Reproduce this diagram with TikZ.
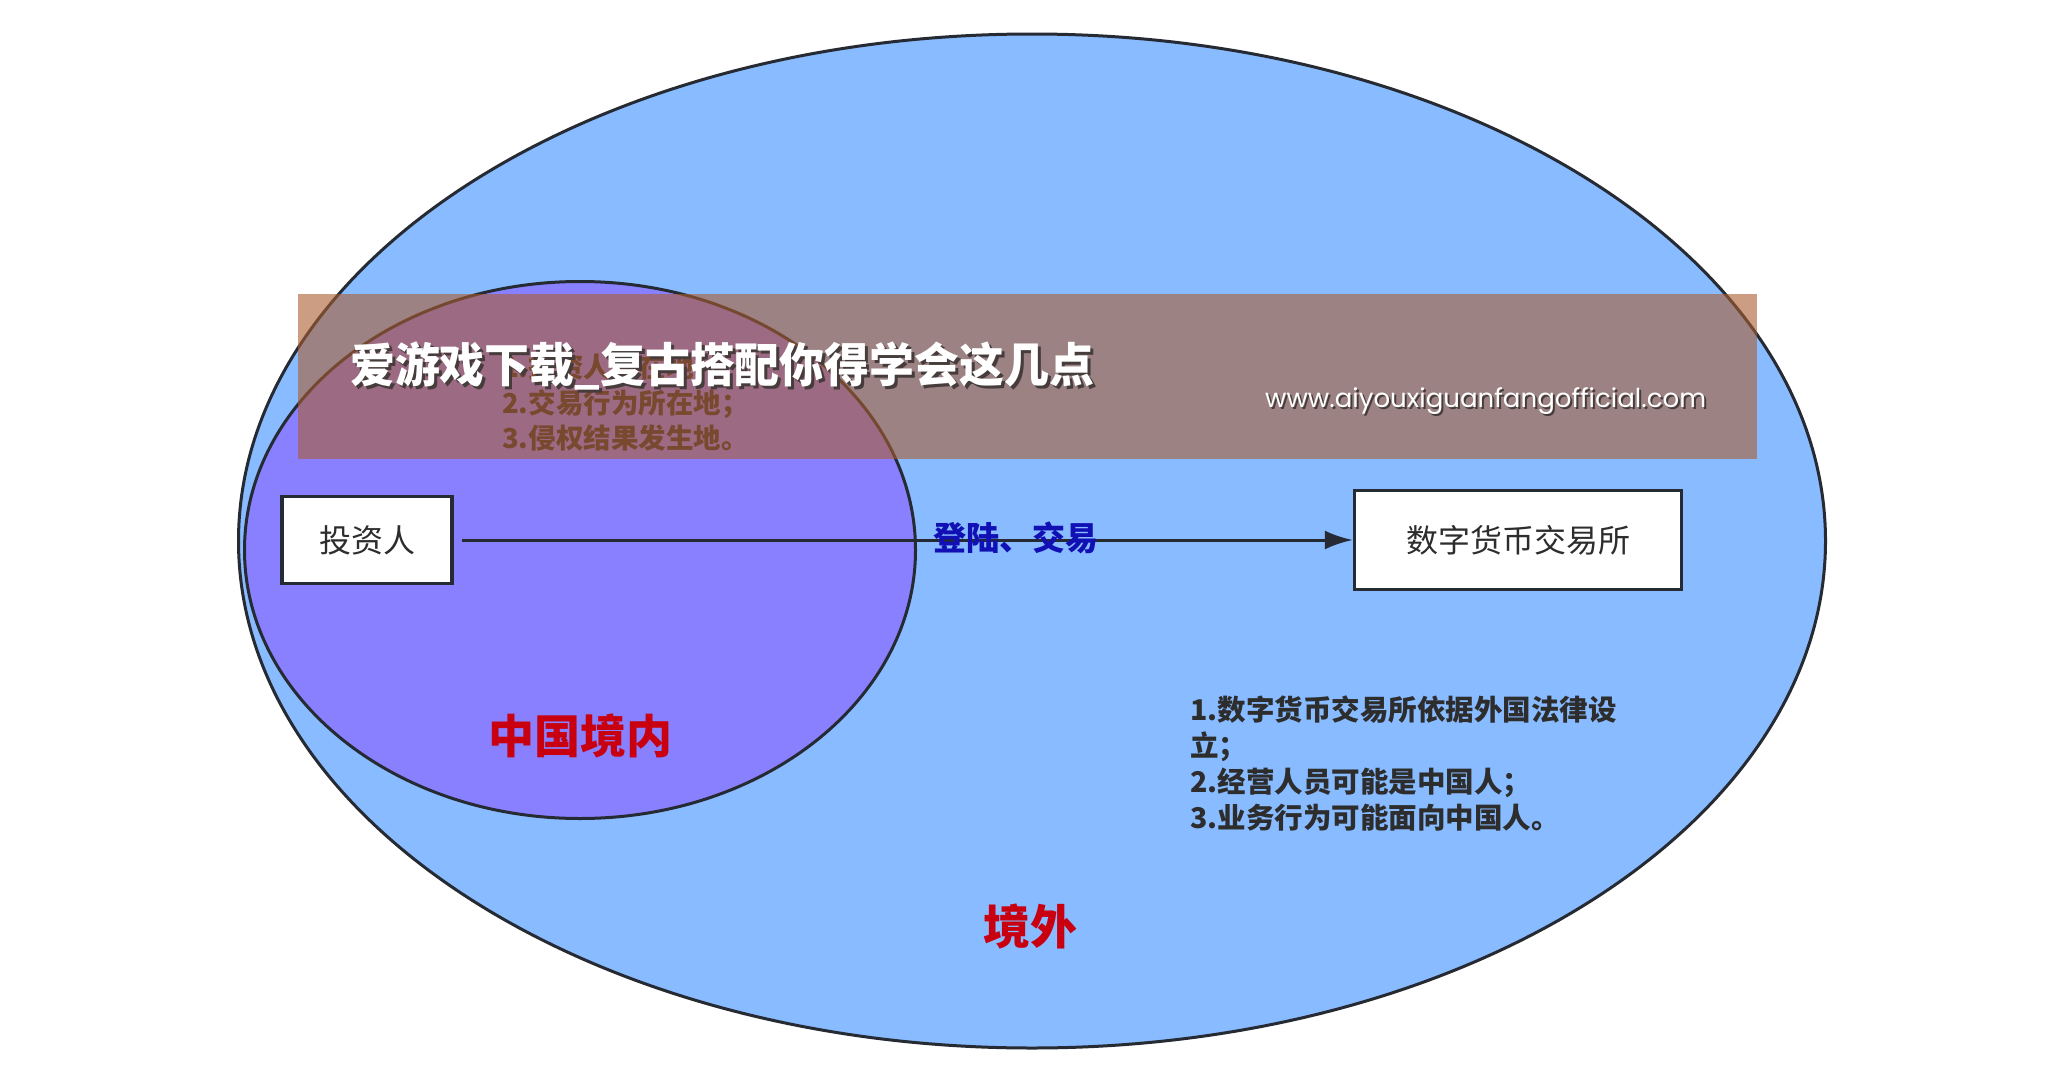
\documentclass[tikz,border=0pt]{standalone}
\usepackage{fontspec}
\setmainfont{Noto Sans CJK SC}
\newfontfamily\cjk{Noto Sans CJK SC}
\newfontfamily\urlfont{Poppins}
\usetikzlibrary{arrows.meta,shapes.geometric}
\definecolor{outerblue}{RGB}{136,187,255}
\definecolor{innerpurple}{RGB}{136,128,255}
\definecolor{edgec}{RGB}{38,42,50}
\definecolor{bannerc}{RGB}{170,92,48}
\definecolor{redtxt}{RGB}{200,0,16}
\definecolor{bluetxt}{RGB}{16,16,180}
\definecolor{txt}{RGB}{45,45,45}
\definecolor{shadowc}{RGB}{70,60,60}
\tikzset{
  region/.style={ellipse, draw=edgec, line width=3pt, inner sep=0pt},
  box/.style={draw=edgec, fill=white, line width=3.5pt, inner sep=0pt, text=txt, font=\cjk\fontsize{32}{38}\selectfont},
  conn/.style={draw=edgec, line width=3pt, -{Latex[length=28pt,width=19pt]}},
  bigred/.style={text=redtxt, font=\cjk\bfseries\fontsize{46}{52}\selectfont, inner sep=0pt},
  listtxt/.style={text=txt, align=left, inner sep=0pt, anchor=west}
}
\begin{document}
\begin{tikzpicture}[x=1pt,y=-1pt]
\useasboundingbox (0,0) rectangle (2054,1092);
\fill[white] (0,0) rectangle (2054,1092);
% regions
\node[region, fill=outerblue, minimum width=1587pt, minimum height=1014pt] (outer) at (1032,541) {};
\node[region, fill=innerpurple, minimum width=671pt, minimum height=537pt] (inner) at (580,550) {};
% boxes
\node[box, minimum width=170pt, minimum height=87pt] (inv) at (367,540) {投资人};
\node[box, minimum width=327pt, minimum height=99pt] (exch) at (1518,540) {数字货币交易所};
% connector
\draw[conn, shorten <=8pt] (inv.east) -- (exch.west)
  node[pos=0.625, text=bluetxt, font=\cjk\bfseries\fontsize{33}{38}\selectfont, inner sep=0pt, yshift=2pt] (lbl) {登陆、交易};
% region labels
\node[bigred] (cn) at (580,736) {中国境内};
\node[bigred, font=\cjk\bfseries\fontsize{47}{52}\selectfont] (abroad) at (1030,926) {境外};
% lists
\node[listtxt, font=\cjk\bfseries\fontsize{27.5}{35.5}\selectfont] (inlist) at (502,403) {1.投资人所在地；\\2.交易行为所在地；\\3.侵权结果发生地。};
\node[listtxt, font=\cjk\bfseries\fontsize{28.5}{36}\selectfont] (outlist) at (1190,763) {1.数字货币交易所依据外国法律设\\立；\\2.经营人员可能是中国人；\\3.业务行为可能面向中国人。};
% banner overlay
\node[fill=bannerc, fill opacity=0.6, minimum width=1459pt, minimum height=165pt, inner sep=0pt, anchor=north west] (banner) at (298,294) {};
\node[anchor=west, inner sep=0pt, text=shadowc, font=\cjk\bfseries\fontsize{47}{52}\selectfont, xscale=0.955] (titlesh) at (353,369) {爱游戏下载\_复古搭配你得学会这几点};
\node[anchor=west, inner sep=0pt, text=white, font=\cjk\bfseries\fontsize{47}{52}\selectfont, xscale=0.955] (title) at (350,366) {爱游戏下载\_复古搭配你得学会这几点};
\node[anchor=west, inner sep=0pt, text=shadowc] (urlsh) at (1267,403) {\resizebox{441pt}{!}{\urlfont www.aiyouxiguanfangofficial.com}};
\node[anchor=west, inner sep=0pt, text=white] (url) at (1265,401) {\resizebox{441pt}{!}{\urlfont www.aiyouxiguanfangofficial.com}};
\end{tikzpicture}
\end{document}
